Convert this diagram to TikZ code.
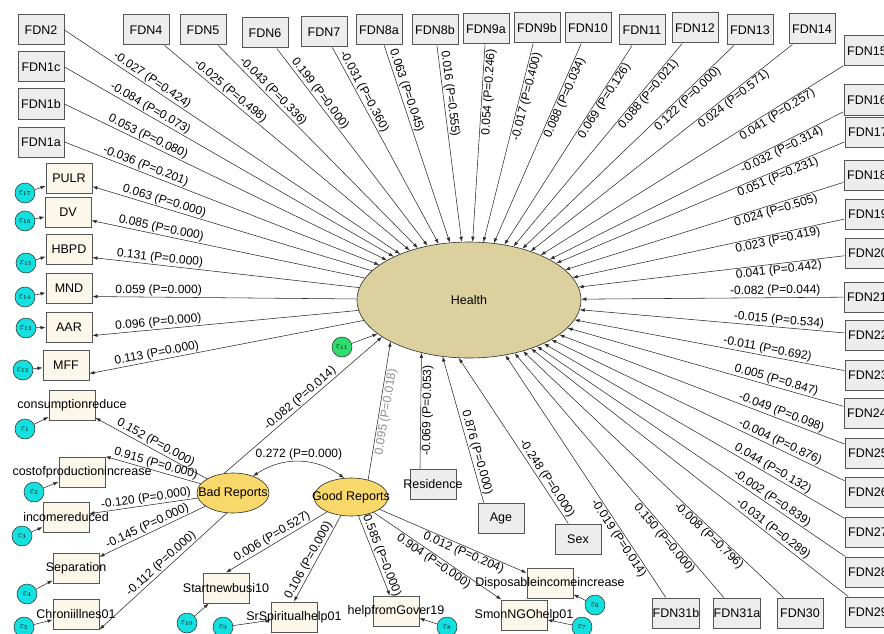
\documentclass[tikz,border=0pt]{standalone}
\usepackage{fontspec}
\setmainfont{Liberation Sans}
\usetikzlibrary{arrows.meta,shapes.geometric}
\definecolor{ink}{HTML}{2B2B2B}
\definecolor{boxline}{HTML}{555555}
\definecolor{boxgray}{HTML}{EDEDED}
\definecolor{cream}{HTML}{FCF7EB}
\definecolor{healthfill}{HTML}{DCD19E}
\definecolor{latfill}{HTML}{F8D86B}
\definecolor{errcyan}{HTML}{14E0E0}
\definecolor{errgreen}{HTML}{2EDD6E}
\definecolor{faint}{HTML}{8C8C8C}

\begin{document}
\begin{tikzpicture}[x=1pt,y=-1pt,font=\fontsize{12.5}{14}\selectfont,
  fdn/.style={draw=boxline,fill=boxgray,line width=1pt,minimum width=46pt,minimum height=30pt,inner sep=0pt},
  obs/.style={fdn,fill=cream},
  latent/.style={ellipse,draw=ink,line width=0.6pt,inner sep=0pt},
  err/.style={circle,draw=ink,line width=0.5pt,fill=errcyan,minimum size=20pt,inner sep=0pt,font=\fontsize{9}{9}\selectfont},
  link/.style={draw=ink,line width=0.55pt,-{Latex[length=5pt,width=3.6pt]}},
  coef/.style={sloped,inner sep=1pt,font=\fontsize{12}{14}\selectfont}]
  \fill[white] (0,0) rectangle (884,634);
  \useasboundingbox (0,0) rectangle (884,634);

  % latent variables
  \node[latent,fill=healthfill,minimum width=224pt,minimum height=116pt] (health) at (469,300) {Health};
  \node[latent,fill=latfill,minimum width=72pt,minimum height=40pt] (bad) at (233,493) {\makebox[0pt]{Bad Reports}};
  \node[latent,fill=latfill,minimum width=74pt,minimum height=38pt] (good) at (351,497) {\makebox[0pt]{Good Reports}};
  \node[err,fill=errgreen] (e11) at (342,347) {$\varepsilon_{11}$};
  \draw[link] (e11) -- (health);

  % FDN causes, left column
  \foreach \nm/\yy/\cf in {
      FDN2/30/{-0.027 (P=0.424)},
      FDN1c/67/{-0.084 (P=0.073)},
      FDN1b/104/{0.053 (P=0.080)},
      FDN1a/142/{-0.036 (P=0.201)}} {
    \node[fdn] (\nm) at (41,\yy) {\nm};
    \draw[link] (\nm.east) -- (health) node[coef,pos=0.25,above] {\cf};
  }

  % FDN causes, top row, right column and bottom row
  \foreach \nm/\xx/\yy/\cf/\pp/\sd in {
      FDN4/146/30/{-0.025 (P=0.498)}/0.25/above,
      FDN5/203/30/{-0.043 (P=0.336)}/0.25/above,
      FDN6/265/33/{0.199 (P=0.000)}/0.25/above,
      FDN7/324/32/{-0.031 (P=0.360)}/0.24/above,
      FDN8a/379/30/{0.063 (P=0.045)}/0.24/above,
      FDN8b/435/30/{0.016 (P=0.555)}/0.25/above,
      FDN9a/486/29/{0.054 (P=0.246)}/0.24/below,
      FDN9b/537/28/{-0.017 (P=0.400)}/0.26/below,
      FDN10/588/28/{0.088 (P=0.034)}/0.26/below,
      FDN11/642/30/{0.069 (P=0.126)}/0.26/below,
      FDN12/695/28/{0.088 (P=0.021)}/0.23/below,
      FDN13/750/30/{0.122 (P=0.000)}/0.24/below,
      FDN14/812/29/{0.024 (P=0.571)}/0.24/below,
      FDN15/867/51/{0.041 (P=0.257)}/0.23/below,
      FDN16/867/100/{-0.032 (P=0.314)}/0.22/below,
      FDN17/868/132/{0.051 (P=0.231)}/0.24/below,
      FDN18/867/175/{0.024 (P=0.505)}/0.25/below,
      FDN19/868/214/{0.023 (P=0.419)}/0.25/below,
      FDN20/868/253/{0.041 (P=0.442)}/0.25/below,
      FDN21/867/297/{-0.082 (P=0.044)}/0.26/above,
      FDN22/868/335/{-0.015 (P=0.534)}/0.25/above,
      FDN23/868/375/{-0.011 (P=0.692)}/0.29/above,
      FDN24/867/413/{0.005 (P=0.847)}/0.25/above,
      FDN25/868/453/{-0.049 (P=0.098)}/0.23/above,
      FDN26/868/492/{-0.004 (P=0.876)}/0.23/above,
      FDN27/868/532/{0.044 (P=0.132)}/0.25/above,
      FDN28/868/572/{-0.002 (P=0.839)}/0.25/above,
      FDN29/868/612/{-0.031 (P=0.289)}/0.25/above,
      FDN30/800/613/{-0.008 (P=0.796)}/0.27/below,
      FDN31a/737/613/{0.150 (P=0.000)}/0.26/below,
      FDN31b/676/613/{-0.019 (P=0.014)}/0.26/below} {
    \node[fdn] (\nm) at (\xx,\yy) {\nm};
    \draw[link] (\nm) -- (health) node[coef,pos=\pp,\sd] {\cf};
  }

  % background variables
  \node[fdn] (res) at (433,484) {\makebox[0pt]{Residence}};
  \node[fdn] (age) at (501,518) {Age};
  \node[fdn] (sex) at (578,539) {Sex};
  \draw[link] (res.130) -- (health.228) node[coef,pos=0.5,below] {-0.069 (P=0.053)};
  \draw[link] (age.138) -- (health.245) node[coef,pos=0.33,above] {0.876 (P=0.000)};
  \draw[link] (sex.122) -- (health.260) node[coef,pos=0.25,above] {-0.248 (P=0.000)};

  % health indicators
  \foreach \nm/\lb/\xx/\yy/\en/\ex/\ey/\cf in {
      pulr/PULR/69/178/17/25/193/{0.063 (P=0.000)},
      dv/DV/68/212/16/25/221/{0.085 (P=0.000)},
      hbpd/HBPD/69/249/15/26/263/{0.131 (P=0.000)},
      mnd/MND/69/288/14/25/297/{0.059 (P=0.000)},
      aar/AAR/69/327/13/26/328/{0.096 (P=0.000)},
      mff/MFF/66/365/12/23/370/{0.113 (P=0.000)}} {
    \node[obs] (\nm) at (\xx,\yy) {\lb};
    \node[err] (e\en) at (\ex,\ey) {$\varepsilon_{\en}$};
    \draw[link] (e\en) -- (\nm);
    \draw[link] (health) -- (\nm.-20) node[coef,pos=0.75,above] {\cf};
  }

  % bad reports indicators
  \foreach \nm/\xx/\yy/\lb/\en/\ex/\ey/\cf/\pp in {
      cons/72/405/consumptionreduce/1/25/429/{0.152 (P=0.000)}/0.49,
      incred/66/517/incomereduced/3/22/536/{-0.120 (P=0.000)}/0.47,
      sep/76/568/Separation/4/27/594/{-0.145 (P=0.000)}/0.52} {
    \node[obs] (\nm) at (\xx,\yy) {\makebox[0pt]{\lb}};
    \node[err] (e\en) at (\ex,\ey) {$\varepsilon_{\en}$};
    \draw[link] (e\en) -- (\nm);
    \draw[link] (bad) -- (\nm) node[coef,pos=\pp,above] {\cf};
  }
  \node[obs] (cost) at (82,472) {\makebox[0pt]{costofproductionincrease}};
  \node[err] (e2) at (34,492) {$\varepsilon_{2}$};
  \draw[link] (e2) -- (cost);
  \draw[link] (bad) -- (cost.north east) node[coef,pos=0.49,above] {0.915 (P=0.000)};
  \node[obs] (chron) at (76,614) {\makebox[0pt]{Chroniillnes01}};
  \node[err] (e5) at (24,627) {$\varepsilon_{5}$};
  \draw[link] (e5) -- (chron);
  \draw[link] (bad.253) -- (chron.south east) node[coef,pos=0.48,above] {-0.112 (P=0.000)};

  % good reports indicators
  \node[obs] (snb) at (226,588) {\makebox[0pt]{Startnewbusi10}};
  \node[obs] (sr) at (294,617) {\makebox[0pt]{SrSpiritualhelp01}};
  \node[obs] (hg) at (396,611) {\makebox[0pt]{helpfromGover19}};
  \node[obs] (ngo) at (524,615) {\makebox[0pt]{SmonNGOhelp01}};
  \node[obs] (disp) at (550,583) {\makebox[0pt]{Disposableincomeincrease}};
  \foreach \en/\ex/\ey/\nm in {10/187/623/snb, 9/223/627/sr, 8/447/627/hg, 7/582/627/ngo, 6/595/605/disp} {
    \node[err] (e\en) at (\ex,\ey) {$\varepsilon_{\en}$};
    \draw[link] (e\en) -- (\nm);
  }
  \draw[link] (good.212) -- (snb.north) node[coef,pos=0.51,above] {0.006 (P=0.527)};
  \draw[link] (good) -- (sr.north) node[coef,pos=0.56,above] {0.106 (P=0.000)};
  \draw[link] (good) -- (hg) node[coef,pos=0.53,above] {0.585 (P=0.000)};
  \draw[link] (good) -- (ngo) node[coef,pos=0.5,below] {0.904 (P=0.000)};
  \draw[link] (good) -- (disp) node[coef,pos=0.59,below] {0.012 (P=0.204)};

  % structural paths
  \draw[link] (bad.114) -- (health.203) node[coef,pos=0.51,above] {-0.082 (P=0.014)};
  \draw[link] (good.45) -- (health.208) node[coef,pos=0.5,below,text=faint] {0.095 (P=0.018)};
  \draw[draw=ink,line width=0.55pt,{Latex[length=5pt,width=3.6pt]}-{Latex[length=5pt,width=3.6pt]}]
    (bad.40) to[bend left=35] node[above,inner sep=1pt,font=\fontsize{12}{14}\selectfont] {0.272 (P=0.000)} (good.110);
\end{tikzpicture}
\end{document}
